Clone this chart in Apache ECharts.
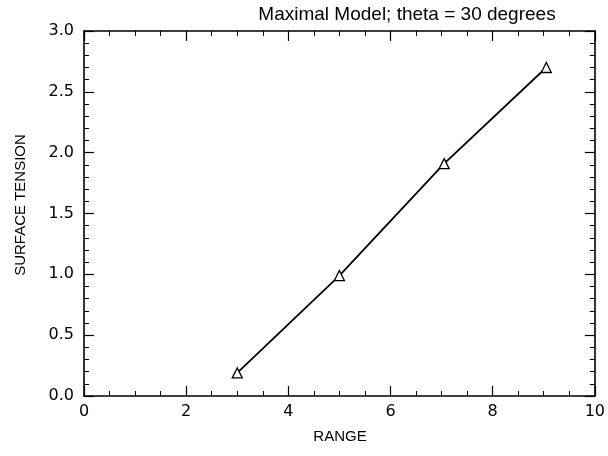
<!DOCTYPE html>
<html>
<head>
<meta charset="utf-8">
<script src="https://cdn.jsdelivr.net/npm/echarts@6/dist/echarts.min.js"></script>
<style>html,body{margin:0;padding:0;background:#fff}#c{width:608px;height:456px}</style>
</head>
<body>
<div id="c"></div>
<script>
const titleText = "Maximal Model; theta = 30 degrees";
const xName = "RANGE";
const yName = "SURFACE TENSION";
const rangeValues = [3.0, 5.0, 7.05, 9.05];
const tensionValues = [0.19, 0.99, 1.91, 2.70];
const xTicks = [0, 2, 4, 6, 8, 10];
const yTicks = [0.0, 0.5, 1.0, 1.5, 2.0, 2.5, 3.0];

const chart = echarts.init(document.getElementById('c'), null, {renderer: 'canvas'});
const lineStyle = {color: '#000', width: 1.6};
const baseAxis = {
  axisLine: {show: true, onZero: false, lineStyle: lineStyle},
  axisTick: {show: true, inside: true, length: 10, lineStyle: {color: '#000', width: 1.2}},
  minorTick: {show: true, length: 5, lineStyle: {color: '#000', width: 1}},
  splitLine: {show: false}
};
chart.setOption({
  animation: false,
  backgroundColor: '#fff',
  grid: {left: 84, right: 11, top: 31, bottom: 60, containLabel: false},
  xAxis: [
    Object.assign({}, baseAxis, {
      type: 'value', min: xTicks[0], max: xTicks[xTicks.length - 1], interval: 2,
      minorTick: Object.assign({}, baseAxis.minorTick, {splitNumber: 4}),
      axisLabel: {color: '#000', fontSize: 16, fontFamily: 'DejaVu Sans', margin: 8}
    }),
    Object.assign({}, baseAxis, {
      type: 'value', position: 'top', min: xTicks[0], max: xTicks[xTicks.length - 1], interval: 2,
      minorTick: Object.assign({}, baseAxis.minorTick, {splitNumber: 4}),
      axisLabel: {show: false}
    })
  ],
  yAxis: [
    Object.assign({}, baseAxis, {
      type: 'value', min: yTicks[0], max: yTicks[yTicks.length - 1], interval: 0.5,
      minorTick: Object.assign({}, baseAxis.minorTick, {splitNumber: 5}),
      axisLabel: {color: '#000', fontSize: 16, fontFamily: 'DejaVu Sans', margin: 10,
        formatter: v => v.toFixed(1)}
    }),
    Object.assign({}, baseAxis, {
      type: 'value', position: 'right', min: yTicks[0], max: yTicks[yTicks.length - 1], interval: 0.5,
      minorTick: Object.assign({}, baseAxis.minorTick, {splitNumber: 5}),
      axisLabel: {show: false}
    })
  ],
  graphic: [
    {type: 'text', x: 407, y: 15,
      style: {text: titleText, fill: '#000', font: '19px "Liberation Sans"', align: 'center', verticalAlign: 'middle'}},
    {type: 'text', x: 340, y: 437,
      style: {text: xName, fill: '#000', font: '15px "Liberation Sans"', align: 'center', verticalAlign: 'middle'}},
    {type: 'text', x: 21, y: 205, rotation: Math.PI / 2,
      style: {text: yName, fill: '#000', font: '15px "Liberation Sans"', align: 'center', verticalAlign: 'middle'}}
  ],
  series: [{
    type: 'line',
    xAxisIndex: 0, yAxisIndex: 0,
    data: rangeValues.map((x, i) => [x, tensionValues[i]]),
    symbol: 'triangle', symbolSize: 10, showAllSymbol: true,
    lineStyle: {color: '#000', width: 1.8},
    itemStyle: {color: '#fff', borderColor: '#000', borderWidth: 1.3}
  }]
});
</script>
</body>
</html>
